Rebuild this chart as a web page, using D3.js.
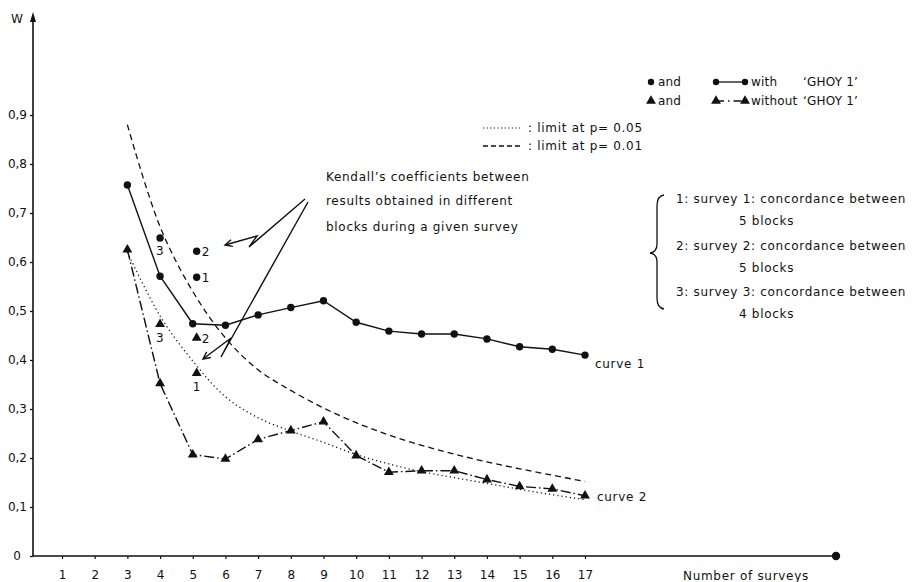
<!DOCTYPE html>
<html>
<head>
<meta charset="utf-8">
<script src="https://cdn.jsdelivr.net/npm/d3@7"></script>
<style>
  body { margin: 0; background: #fff; }
  svg text { font-family: "DejaVu Sans", sans-serif; fill: #111; }
  .lbl { font-size: 12px; letter-spacing: 0.7px; }
  .leg { font-size: 12px; letter-spacing: 0.2px; }
  .tick text { font-size: 12px; }
</style>
</head>
<body>
<svg id="chart" width="914" height="582"></svg>
<script>
// Number of surveys (x) for both curves and the significance limits
const surveys = [3, 4, 5, 6, 7, 8, 9, 10, 11, 12, 13, 14, 15, 16, 17];
// Kendall's W, curve 1: with 'GHOY 1'
const withGhoy = [0.757, 0.571, 0.474, 0.471, 0.492, 0.507, 0.521, 0.477, 0.459, 0.453, 0.453, 0.443, 0.427, 0.422, 0.410];
// Kendall's W, curve 2: without 'GHOY 1'
const withoutGhoy = [0.625, 0.352, 0.207, 0.198, 0.238, 0.256, 0.274, 0.205, 0.171, 0.174, 0.174, 0.156, 0.142, 0.137, 0.123];
// Critical values of W
const limit05 = [0.62, 0.49, 0.398, 0.325, 0.282, 0.255, 0.232, 0.207, 0.188, 0.172, 0.160, 0.148, 0.136, 0.125, 0.115];
const limit01 = [0.88, 0.672, 0.540, 0.445, 0.380, 0.338, 0.302, 0.272, 0.247, 0.226, 0.208, 0.192, 0.178, 0.165, 0.152];
// Single-survey coefficients (concordance between blocks)
const singleN = [4, 5.12, 5.12];
const singleWith = [0.649, 0.622, 0.569];
const singleWithout = [0.473, 0.445, 0.373];
const singleSurvey = ["3", "2", "1"];
// Axis ticks
const xTicks = [1, 2, 3, 4, 5, 6, 7, 8, 9, 10, 11, 12, 13, 14, 15, 16, 17];
const yTicks = [0, 0.1, 0.2, 0.3, 0.4, 0.5, 0.6, 0.7, 0.8, 0.9];

const svg = d3.select("#chart");
const ink = "#111";

const x = d3.scaleLinear().domain([1, 17]).range([62, 585]);
const y = d3.scaleLinear().domain([0, 0.9]).range([556, 115]);
const axisX = 33, axisY = y(0);

// ---- axes ----
svg.append("line").attr("x1", axisX).attr("y1", axisY).attr("x2", 836).attr("y2", axisY)
  .attr("stroke", ink).attr("stroke-width", 1.6);
svg.append("circle").attr("cx", 836).attr("cy", axisY).attr("r", 4.2).attr("fill", ink);
svg.append("line").attr("x1", axisX).attr("y1", axisY).attr("x2", axisX).attr("y2", 18)
  .attr("stroke", ink).attr("stroke-width", 1.6);
svg.append("path").attr("d", `M${axisX},12 L${axisX - 3},22 L${axisX + 3},22 Z`).attr("fill", ink);
svg.append("text").attr("x", 11).attr("y", 23).attr("font-size", 12).text("W");

const yAxis = svg.append("g").attr("transform", `translate(${axisX},0)`)
  .call(d3.axisLeft(y).tickValues(yTicks).tickSize(3).tickPadding(3)
    .tickFormat(d => d === 0 ? "0" : d3.format(".1f")(d).replace(".", ",")));
yAxis.select(".domain").remove();
yAxis.selectAll(".tick line").attr("stroke", ink).attr("stroke-width", 1.3);
yAxis.selectAll(".tick text").attr("fill", ink).attr("dx", d => d === 0 ? -6 : 0);

const xAxis = svg.append("g").attr("transform", `translate(0,${axisY})`)
  .call(d3.axisBottom(x).tickValues(xTicks).tickSize(3).tickPadding(11));
xAxis.select(".domain").remove();
xAxis.selectAll(".tick line").attr("stroke", ink).attr("stroke-width", 1.2);
xAxis.selectAll(".tick text").attr("fill", ink);

svg.append("text").attr("class", "lbl").attr("x", 683).attr("y", 580).text("Number of surveys");

// ---- significance limits ----
const limitLine = d3.line().x((d, i) => x(surveys[i])).y(d => y(d)).curve(d3.curveCatmullRom);
svg.append("path").datum(limit05).attr("d", limitLine).attr("fill", "none")
  .attr("stroke", ink).attr("stroke-width", 1.3).attr("stroke-dasharray", "1.2,3");
svg.append("path").datum(limit01).attr("d", limitLine).attr("fill", "none")
  .attr("stroke", ink).attr("stroke-width", 1.3).attr("stroke-dasharray", "6,4");

// ---- curves ----
const curveLine = d3.line().x((d, i) => x(surveys[i])).y(d => y(d));
svg.append("path").datum(withGhoy).attr("d", curveLine).attr("fill", "none")
  .attr("stroke", ink).attr("stroke-width", 1.4);
svg.append("path").datum(withoutGhoy).attr("d", curveLine).attr("fill", "none")
  .attr("stroke", ink).attr("stroke-width", 1.4).attr("stroke-dasharray", "10,3,1.5,3");

const tri = d3.symbol().type(d3.symbolTriangle).size(42);
svg.append("g").selectAll("circle").data(withGhoy).join("circle")
  .attr("cx", (d, i) => x(surveys[i])).attr("cy", d => y(d)).attr("r", 3.7).attr("fill", ink);
svg.append("g").selectAll("path").data(withoutGhoy).join("path")
  .attr("d", tri).attr("transform", (d, i) => `translate(${x(surveys[i])},${y(d)})`).attr("fill", ink);

svg.append("text").attr("class", "lbl").attr("x", x(17) + 10).attr("y", y(withGhoy[14]) + 13).text("curve 1");
svg.append("text").attr("class", "lbl").attr("x", x(17) + 12).attr("y", y(withoutGhoy[14]) + 5).text("curve 2");

// ---- single-survey points ----
singleWith.forEach((w, i) => {
  const cx = x(singleN[i]), cy = y(w);
  svg.append("circle").attr("cx", cx).attr("cy", cy).attr("r", 3.7).attr("fill", ink);
  const below = singleN[i] < 5;
  svg.append("text").attr("class", "lbl").attr("font-size", 13)
    .attr("x", below ? cx - 4 : cx + 5).attr("y", below ? cy + 17 : cy + 5).text(singleSurvey[i]);
});
singleWithout.forEach((w, i) => {
  const cx = x(singleN[i]), cy = y(w);
  svg.append("path").attr("d", tri).attr("transform", `translate(${cx},${cy})`).attr("fill", ink);
  const below = singleSurvey[i] !== "2";
  svg.append("text").attr("class", "lbl").attr("font-size", 13)
    .attr("x", below ? cx - 4 : cx + 5).attr("y", below ? cy + 18 : cy + 5).text(singleSurvey[i]);
});

// ---- annotation with lightning arrows ----
const note = ["Kendall\u2019s coefficients between", "results obtained in different", "blocks during a given survey"];
const noteY = [181, 205, 231];
note.forEach((t, i) => svg.append("text").attr("class", "lbl").attr("x", 326).attr("y", noteY[i]).text(t));

function bolt(pts) {
  svg.append("path").attr("d", d3.line()(pts)).attr("fill", "none")
    .attr("stroke", ink).attr("stroke-width", 1.4).attr("stroke-linejoin", "miter");
  const [a, b] = [pts[pts.length - 2], pts[pts.length - 1]];
  const ang = Math.atan2(b[1] - a[1], b[0] - a[0]);
  const L = 8, s = 0.45;
  const p1 = [b[0] - L * Math.cos(ang - s), b[1] - L * Math.sin(ang - s)];
  const p2 = [b[0] - L * Math.cos(ang + s), b[1] - L * Math.sin(ang + s)];
  svg.append("path").attr("d", `M${p1}L${b}L${p2}`).attr("fill", "none")
    .attr("stroke", ink).attr("stroke-width", 1.4);
}
bolt([[305, 199], [249, 247], [257, 236], [225, 245]]);
bolt([[308, 202], [221, 357], [231, 338], [203, 359]]);

// ---- legend ----
const lg = svg.append("g");
lg.append("circle").attr("cx", 651).attr("cy", 82).attr("r", 3.2).attr("fill", ink);
lg.append("text").attr("class", "leg").attr("x", 658).attr("y", 86).text("and");
lg.append("path").attr("d", tri).attr("transform", "translate(651,101)").attr("fill", ink);
lg.append("text").attr("class", "leg").attr("x", 658).attr("y", 105).text("and");

lg.append("line").attr("x1", 716).attr("x2", 745).attr("y1", 82).attr("y2", 82).attr("stroke", ink).attr("stroke-width", 1.3);
lg.append("circle").attr("cx", 716).attr("cy", 82).attr("r", 3.2).attr("fill", ink);
lg.append("circle").attr("cx", 745).attr("cy", 82).attr("r", 3.2).attr("fill", ink);
lg.append("line").attr("x1", 716).attr("x2", 745).attr("y1", 101).attr("y2", 101).attr("stroke", ink)
  .attr("stroke-width", 1.3).attr("stroke-dasharray", "8,4,1.5,4");
lg.append("path").attr("d", tri).attr("transform", "translate(716,101)").attr("fill", ink);
lg.append("path").attr("d", tri).attr("transform", "translate(745,101)").attr("fill", ink);

lg.append("text").attr("class", "leg").attr("x", 751).attr("y", 86).text("with");
lg.append("text").attr("class", "leg").attr("x", 751).attr("y", 105).text("without");
lg.append("text").attr("class", "leg").attr("x", 803).attr("y", 86).text("\u2018GHOY 1\u2019");
lg.append("text").attr("class", "leg").attr("x", 803).attr("y", 105).text("\u2018GHOY 1\u2019");

lg.append("line").attr("x1", 483).attr("x2", 520).attr("y1", 128).attr("y2", 128).attr("stroke", ink)
  .attr("stroke-width", 1.2).attr("stroke-dasharray", "1.2,2.4");
lg.append("text").attr("class", "lbl").attr("x", 528).attr("y", 132).text(": limit at p= 0.05");
lg.append("line").attr("x1", 483).attr("x2", 520).attr("y1", 146).attr("y2", 146).attr("stroke", ink)
  .attr("stroke-width", 1.3).attr("stroke-dasharray", "5,3");
lg.append("text").attr("class", "lbl").attr("x", 528).attr("y", 150).text(": limit at p= 0.01");

// ---- survey key with brace ----
svg.append("path")
  .attr("d", "M664,195 Q657,196 657,206 L657,244 Q657,252 650,253 Q657,254 657,262 L657,298 Q657,308 664,309")
  .attr("fill", "none").attr("stroke", ink).attr("stroke-width", 1.3);
const keyRows = [
  ["1: survey 1: concordance between", "5 blocks"],
  ["2: survey 2: concordance between", "5 blocks"],
  ["3: survey 3: concordance between", "4 blocks"]
];
const keyY = [203, 250, 296];
keyRows.forEach((r, i) => {
  svg.append("text").attr("class", "lbl").attr("x", 676).attr("y", keyY[i]).text(r[0]);
  svg.append("text").attr("class", "lbl").attr("x", 739).attr("y", keyY[i] + 22).text(r[1]);
});
</script>
</body>
</html>
